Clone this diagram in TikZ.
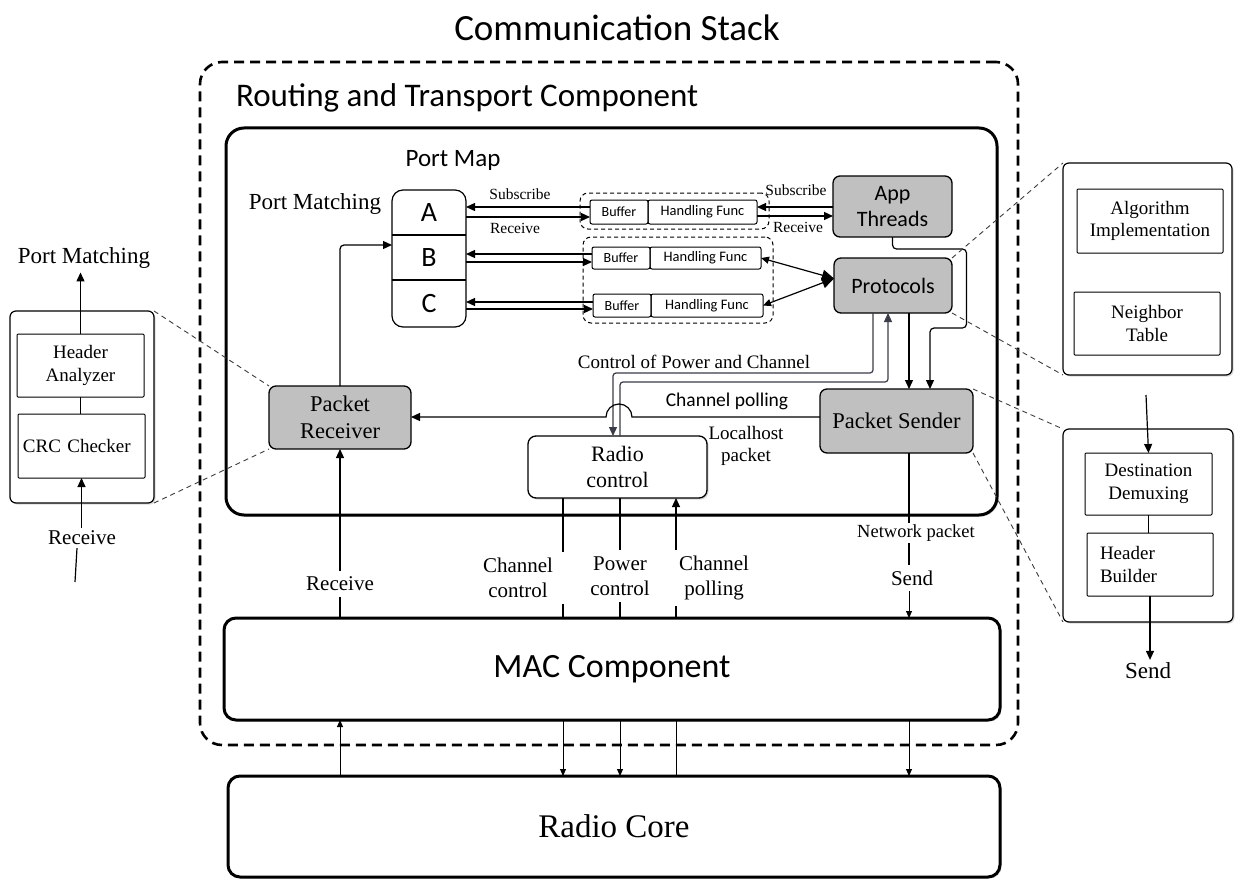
\documentclass[tikz,border=0pt]{standalone}
\usepackage{fontspec}
\setmainfont{Liberation Serif}
\newfontfamily\calf{Carlito}
\usetikzlibrary{arrows.meta,shadows,calc}
\newcommand{\fz}[1]{\fontsize{#1}{\dimexpr #1pt*6/5\relax}\selectfont}
\definecolor{boxgray}{RGB}{192,192,192}
\definecolor{lineg}{RGB}{58,60,72}
\definecolor{lnkc}{RGB}{60,60,60}
\begin{document}
\begin{tikzpicture}[x=1pt,y=-1pt,
 every node/.style={inner sep=0pt,outer sep=0pt},
 ln/.style={line width=1.2pt},
 arr/.style={line width=1.2pt,-{Triangle[length=9pt,width=8pt]}},
 sarr/.style={line width=0.9pt,-{Triangle[length=7pt,width=6pt]}},
 darr/.style={line width=1.2pt,{Triangle[length=8pt,width=7pt]}-{Triangle[length=12pt,width=11pt]}},
 garr/.style={line width=1.2pt,draw=lineg,-{Triangle[length=9pt,width=8pt]}},
 shd/.style={drop shadow={opacity=0.3,shadow xshift=1.6pt,shadow yshift=-1.6pt}},
 bigbox/.style={draw,line width=3pt,rounded corners=18pt,fill=white,shd},
 gbox/.style={draw,line width=1.3pt,rounded corners=7pt,fill=boxgray},
 wbox/.style={draw,line width=1.3pt,rounded corners=8pt,fill=white,shd},
 panel/.style={draw,line width=1.2pt,rounded corners=6pt,fill=white,shd},
 ibox/.style={draw,line width=1pt,fill=white,rounded corners=1pt,align=center,font=\fz{19}},
 cell/.style={draw,line width=1pt,rounded corners=2pt},
 grp/.style={draw,line width=1pt,dash pattern=on 4pt off 3pt,rounded corners=8pt},
 lnk/.style={line width=0.9pt,draw=lnkc,dash pattern=on 5pt off 4pt},
 lbl/.style={font=\fz{21},align=center,inner sep=6pt},
]
\useasboundingbox (0,0) rectangle (1236,880);

% titles and frames
\node[font=\calf\fz{37}] (title) at (617,28) {Communication Stack};
\node[draw,line width=2.6pt,dash pattern=on 10pt off 6pt,rounded corners=22pt,minimum width=818pt,minimum height=683pt] (cs) at (609,403.5) {};
\node[font=\calf\fz{33},anchor=west] (rtt) at (236,98) {Routing and Transport Component};
\node[bigbox,minimum width=771pt,minimum height=387pt] (rt) at (611.5,321.5) {};

% port map
\node[font=\calf\fz{25}] (pmap) at (453,160) {Port Map};
\node[font=\fz{23}] (pmt) at (315,204) {Port Matching};
\node[draw,line width=1.2pt,rounded corners=11pt,minimum width=74pt,minimum height=137pt] (pm) at (429,258.5) {};
\node[minimum width=74pt,minimum height=45pt,font=\calf\fz{28}] (rowA) at (429,212.5) {A};
\node[minimum width=74pt,minimum height=45pt,font=\calf\fz{28}] (rowB) at (429,257.5) {B};
\node[minimum width=74pt,minimum height=47pt,font=\calf\fz{28}] (rowC) at (429,303.5) {C};
\draw[line width=1.2pt] (rowA.south west) -- (rowA.south east);
\draw[line width=1.2pt] (rowB.south west) -- (rowB.south east);

% buffers
\node[cell,minimum width=58pt,minimum height=24pt,font=\calf\fz{14}] (bfA) at (619,212) {Buffer};
\node[cell,minimum width=109pt,minimum height=24pt,font=\calf\fz{14.5},anchor=west] (hfA) at (bfA.east) {Handling Func};
\node[cell,minimum width=58pt,minimum height=22pt,font=\calf\fz{14}] (bfB) at (621,258) {Buffer};
\node[cell,minimum width=111pt,minimum height=22pt,font=\calf\fz{14.5},anchor=west] (hfB) at (bfB.east) {Handling Func};
\node[cell,minimum width=58pt,minimum height=23pt,font=\calf\fz{14}] (bfC) at (622,305.5) {Buffer};
\node[cell,minimum width=112pt,minimum height=23pt,font=\calf\fz{14.5},anchor=west] (hfC) at (bfC.east) {Handling Func};
\node[grp,minimum width=189pt,minimum height=36pt] (gA) at (674.5,211) {};
\node[grp,minimum width=190pt,minimum height=86pt] (gBC) at (678,280) {};

% main functional boxes
\node[gbox,minimum width=119pt,minimum height=61pt,font=\calf\fz{22},align=center] (app) at (892.5,206.5) {App\\Threads};
\node[gbox,minimum width=118pt,minimum height=55pt,font=\calf\fz{22}] (prot) at (893,285.5) {Protocols};
\node[gbox,minimum width=153pt,minimum height=64pt,font=\fz{22.5}] (ps) at (896.5,421) {Packet Sender};
\node[gbox,minimum width=142pt,minimum height=63pt,font=\fz{22.5},align=center] (pr) at (340,417.5) {Packet\\Receiver};
\node[wbox,minimum width=179pt,minimum height=62pt,font=\fz{22},align=center] (rc) at (617.5,467) {Radio\\control};

% inner labels
\node[font=\fz{15.5}] (sub1) at (520,194) {Subscribe};
\node[font=\fz{15.5}] (rcv1) at (515,228) {Receive};
\node[font=\fz{15.5}] (sub2) at (796,190) {Subscribe};
\node[font=\fz{15.5}] (rcv2) at (798,227) {Receive};
\node[font=\fz{19}] (cpc) at (694,362) {Control of Power and Channel};
\node[font=\calf\fz{19.5}] (chp) at (727,401) {Channel polling};
\node[font=\fz{19},align=center] (lhp) at (746,446) {Localhost\\packet};

% port map <-> buffers
\coordinate (a1) at ([yshift=5pt]bfA.west);
\coordinate (a2) at ([yshift=-5pt]bfA.west);
\draw[arr] (a1) -- (a1 -| rowA.east);
\draw[arr] (a2 -| rowA.east) -- (a2);
\coordinate (b1) at ([yshift=4pt]bfB.west);
\coordinate (b2) at ([yshift=-4pt]bfB.west);
\draw[arr] (b1) -- (b1 -| rowB.east);
\draw[arr] (b2 -| rowB.east) -- (b2);
\coordinate (c1) at ([yshift=3.5pt]bfC.west);
\coordinate (c2) at ([yshift=-3.5pt]bfC.west);
\draw[arr] (c1) -- (c1 -| rowC.east);
\draw[arr] (c2 -| rowC.east) -- (c2);

% buffers <-> app / protocols
\coordinate (s1) at ([yshift=5pt]hfA.east);
\coordinate (s2) at ([yshift=-4pt]hfA.east);
\draw[arr] (s1 -| app.west) -- (s1);
\draw[arr] (s2) -- (s2 -| app.west);
\coordinate (pw) at ([yshift=7pt]prot.west);
\draw[darr] (hfB.east) -- (pw);
\draw[darr] (hfC.east) -- (pw);

% packet receiver -> port map
\coordinate (pb) at ([yshift=12.5pt]rowB.west);
\draw[arr,rounded corners=4pt] (pr.north) |- (pb);

% control lines
\draw[garr,rounded corners=3pt] ([xshift=-20pt]prot.south) -- ++(0,60) -| ([xshift=-4.5pt]rc.north);
\draw[garr,rounded corners=3pt] ([xshift=2.5pt]rc.north) -- ++(0,-54) -| ([xshift=-5pt]prot.south);
\draw[arr] ([xshift=16pt]prot.south) -- ([xshift=12.5pt]ps.north);
\draw[arr,rounded corners=4pt] (app.south) -- ++(0,12) -- ++(74,0) -- ++(0,79) -- ++(-36.5,0) -- ([xshift=33.5pt]ps.north);

% channel polling with hop
\coordinate (cp) at ([yshift=4pt]ps.west);
\coordinate (hr) at ($(cp -| rc.north)+(14.5,0)$);
\draw[arr] (cp) -- (hr) arc[start angle=0,end angle=180,radius=13pt] -- (cp -| pr.east);

% MAC and radio core
\node[bigbox,rounded corners=12pt,minimum width=776pt,minimum height=102pt,font=\calf\fz{34}] (mac) at (612,669) {MAC Component};
\node[bigbox,rounded corners=12pt,minimum width=772pt,minimum height=101pt,font=\fz{33}] (core) at (614,826.5) {Radio Core};

% labels between inner box and MAC
\node[lbl] (rxM) at (340,584) {Receive};
\node[lbl] (ccL) at (518,578) {Channel\\control};
\node[lbl] (pcL) at (620,576) {Power\\control};
\node[lbl] (cpL) at (714,578) {Channel\\polling};
\node[font=\fz{18.5},inner sep=2pt] (npL) at (916,533) {Network packet};
\node[lbl] (sdL) at (912,578) {Send};

\coordinate (xcc) at ([xshift=-54.5pt]rc.south);
\coordinate (xpc) at ([xshift=2.5pt]rc.south);
\coordinate (xcp) at ([xshift=58.5pt]rc.south);
\coordinate (xnp) at ([xshift=12.5pt]ps.south);

\draw[ln] (xcc) -- (xcc |- ccL.north);
\draw[ln] (xcc |- ccL.south) -- (xcc |- mac.north);
\draw[ln] (xpc) -- (xpc |- pcL.north);
\draw[ln] (xpc |- pcL.south) -- (xpc |- mac.north);
\draw[arr] (xcp |- cpL.north) -- (xcp);
\draw[ln] (xcp |- mac.north) -- (xcp |- cpL.south);
\draw[ln] (pr.south |- mac.north) -- (pr.south |- rxM.south);
\draw[arr] (pr.south |- rxM.north) -- (pr.south);
\draw[ln] (xnp) -- (xnp |- npL.north);
\draw[ln] (xnp |- npL.south) -- (xnp |- sdL.north);
\draw[sarr] (xnp |- sdL.south) -- (xnp |- mac.north);

% MAC <-> radio core
\draw[sarr] (pr.south |- core.north) -- (pr.south |- mac.south);
\draw[sarr] (xcc |- mac.south) -- (xcc |- core.north);
\draw[sarr] (xpc |- mac.south) -- (xpc |- core.north);
\draw[line width=0.9pt] (xcp |- mac.south) -- (xcp |- core.north);
\draw[sarr] (xnp |- mac.south) -- (xnp |- core.north);

% right panels
\node[panel,minimum width=169pt,minimum height=212pt] (up) at (1147.5,269) {};
\node[ibox,minimum width=146pt,minimum height=64pt] (alg) at (1150,221) {Algorithm\\Implementation};
\node[ibox,minimum width=146pt,minimum height=63pt] (nbr) at (1147,323.5) {Neighbor\\Table};
\node[panel,minimum width=170pt,minimum height=193pt] (lo) at (1148,525.5) {};
\node[ibox,minimum width=127pt,minimum height=62pt] (dd) at (1148.5,484) {Destination\\Demuxing};
\node[ibox,minimum width=126pt,minimum height=63pt,text width=100pt,inner xsep=13pt,align=left] (hb) at (1150,564.5) {Header\\Builder};
\draw[ln] (dd.south) -- (dd.south |- hb.north);
\coordinate (rin) at (1146,395);
\draw[arr] (rin) -- (dd.north);
\node[font=\fz{23},inner sep=3pt] (sendR) at (1148,671) {Send};
\draw[arr] (hb.south) -- (hb.south |- sendR.north);

% left panel
\node[panel,minimum width=144pt,minimum height=192pt] (lp) at (82,407) {};
\node[ibox,minimum width=127pt,minimum height=63pt] (ha) at (80.5,365.5) {Header\\Analyzer};
\node[ibox,minimum width=127pt,minimum height=64pt,text width=117pt,inner xsep=5pt,align=left] (crc) at (81.5,446) {CRC Checker};
\draw[ln] (ha.south) -- (ha.south |- crc.north);
\node[font=\fz{23},inner sep=4pt] (pmL) at (84,258) {Port Matching};
\draw[arr] (ha.north) -- (ha.north |- pmL.south);
\node[font=\fz{21},inner sep=3pt] (rxL) at (82,538) {Receive};
\draw[arr] (crc.south |- rxL.north) -- (crc.south);
\coordinate (rxe) at (75,582);
\draw[ln] ([xshift=-5pt]rxL.south) -- (rxe);

% zoom links
\draw[lnk] (lp.north east) -- (pr.north west);
\draw[lnk] (lp.south east) -- (pr.south west);
\draw[lnk] (prot.north east) -- (up.north west);
\draw[lnk] (prot.south east) -- (up.south west);
\draw[lnk] (ps.north east) -- (lo.north west);
\draw[lnk] (ps.south east) -- (lo.south west);
\end{tikzpicture}
\end{document}
